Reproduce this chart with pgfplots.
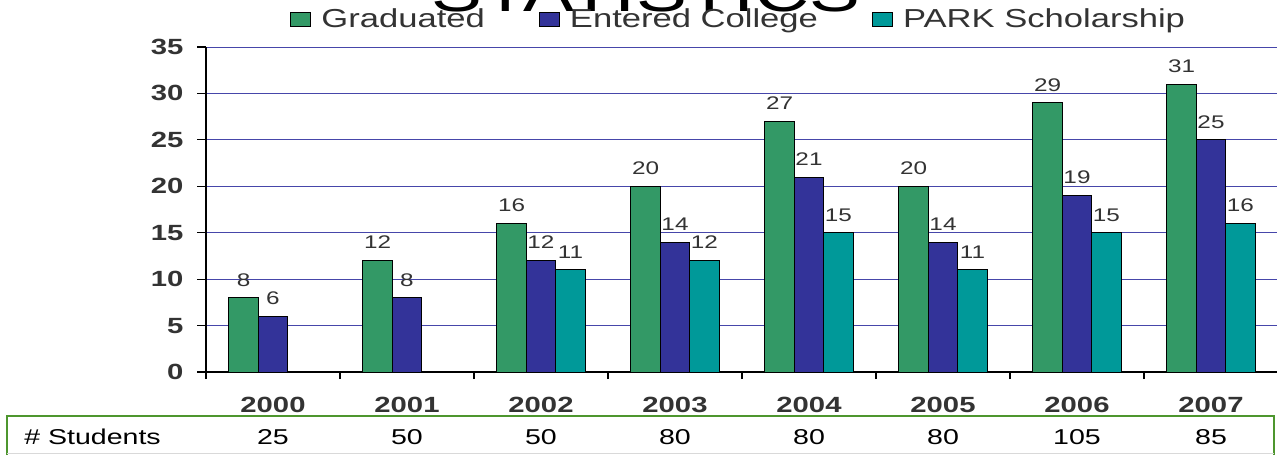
\documentclass[border=0pt]{standalone}
\usepackage{fontspec}
\setmainfont{Liberation Sans}[FakeStretch=1.33]
\usepackage{pgfplots}
\pgfplotsset{compat=1.18}
\definecolor{cgreen}{RGB}{51,153,102}
\definecolor{cblue}{RGB}{51,51,153}
\definecolor{cteal}{RGB}{0,153,153}
\definecolor{ctext}{RGB}{51,51,51}
\definecolor{cgrid}{RGB}{70,70,170}
\definecolor{cborder}{RGB}{77,150,46}
\begin{document}
\begin{tikzpicture}
\useasboundingbox (0,0) rectangle (957.75pt,341.25pt);
\clip (0,0) rectangle (957.75pt,341.25pt);
\begin{axis}[
  at={(154.5pt,62.25pt)}, anchor=south west,
  scale only axis, width=804pt, height=243.75pt,
  ybar=0pt, bar width=22.1pt,
  xmin=-0.5, xmax=7.5, ymin=0, ymax=35,
  xtick={0,...,7},
  xticklabels={2000,2001,2002,2003,2004,2005,2006,2007},
  minor xtick={-0.5,0.5,...,7.5},
  ytick={0,5,...,35},
  axis x line*=bottom, axis y line*=left,
  axis line style={black, line width=1pt},
  tick align=outside,
  major tick length=6.75pt, minor tick length=5.25pt,
  tick style={black, line width=0.8pt},
  major x tick style={draw=none},
  ymajorgrids, major grid style={cgrid, line width=0.75pt},
  /pgf/number format/assume math mode=true,
  yticklabel style={font=\fontsize{16.5pt}{18pt}\selectfont\bfseries, text=ctext, anchor=east, inner sep=0pt, xshift=-10pt},
  xticklabel style={font=\fontsize{16.5pt}{18pt}\selectfont\bfseries, text=ctext, anchor=base, inner sep=0pt, yshift=-23.25pt},
  nodes near coords,
  every node near coord/.append style={font=\fontsize{13.7pt}{15pt}\selectfont, text=ctext, anchor=base, inner sep=0pt, yshift=8.7pt},
  clip=false,
  title={STATISTICS},
  title style={at={(0.4104,1.1092)}, anchor=base, yshift=-6pt, font=\fontsize{43pt}{45pt}\selectfont, inner sep=0pt, text=black},
  legend columns=3,
  legend style={draw=none, fill=none, at={(0.0784,1.0846)}, anchor=west,
    font=\fontsize{19.5pt}{21pt}\selectfont, text=ctext, inner sep=0pt,
    /tikz/every odd column/.append style={column sep=5.75pt},
    /tikz/every even column/.append style={column sep=38.5pt}},
  legend image code/.code={\draw[#1, draw=black, line width=0.6pt] (0pt,-5.25pt) rectangle (15pt,5.25pt);},
]
\addplot[fill=cgreen, draw=black, line width=0.75pt] coordinates {(0,8) (1,12) (2,16) (3,20) (4,27) (5,20) (6,29) (7,31)};
\addplot[fill=cblue, draw=black, line width=0.75pt] coordinates {(0,6) (1,8) (2,12) (3,14) (4,21) (5,14) (6,19) (7,25)};
\addplot[fill=cteal, draw=black, line width=0.75pt] coordinates {(2,11) (3,12) (4,15) (5,11) (6,15) (7,16)};
\legend{Graduated, Entered College, PARK Scholarship}
\begin{scope}[every node/.style={anchor=base, yshift=-54.5pt, inner sep=0pt, font=\fontsize{16.1pt}{18pt}\selectfont, text=black}]
\node at (axis cs:0,0) {25};
\node at (axis cs:1,0) {50};
\node at (axis cs:2,0) {50};
\node at (axis cs:3,0) {80};
\node at (axis cs:4,0) {80};
\node at (axis cs:5,0) {80};
\node at (axis cs:6,0) {105};
\node at (axis cs:7,0) {85};
\end{scope}
\end{axis}
\draw[cborder, line width=1pt] (5.25pt,0pt) -- (5.25pt,29.25pt) -- (955.5pt,29.25pt) -- (955.5pt,0pt);
\draw[black!15, line width=0.75pt] (5.25pt,1.5pt) -- (955.5pt,1.5pt);
\node[anchor=base west, inner sep=0pt, font=\fontsize{16.1pt}{18pt}\selectfont] at (18pt,7.75pt) {\# Students};
\end{tikzpicture}
\end{document}
